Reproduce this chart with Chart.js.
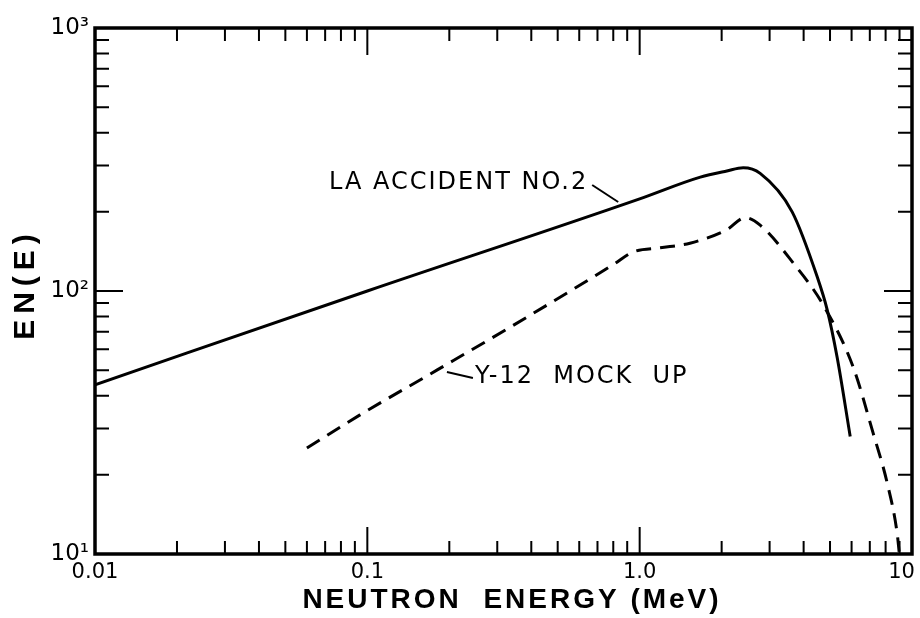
<!DOCTYPE html>
<html>
<head>
<meta charset="utf-8">
<script src="https://cdn.jsdelivr.net/npm/chart.js@4.4.1/dist/chart.umd.min.js"></script>
<style>
  html, body { margin: 0; padding: 0; background: #fff; }
  #wrap { width: 920px; height: 618px; }
</style>
</head>
<body>
<div id="wrap"><canvas id="spectrumChart" width="920" height="618"></canvas></div>
<script>
// LA accident no. 2 (solid line)
const laEnergy = [0.01, 0.1, 1.0, 1.67, 2.09, 2.4, 2.77, 3.63, 4.49, 4.88, 5.31, 5.93];
const laValues = [44, 100, 224, 271, 286, 294, 280, 200, 113, 85, 56, 28];

// Y-12 mock up (dashed line)
const y12Energy = [0.06, 0.094, 0.18, 0.343, 0.8, 0.95, 1.19, 1.53, 2.09, 2.44, 2.77, 3.66, 4.72, 6.08, 7.2, 8.11, 8.82, 8.97];
const y12Values = [25.3, 33.8, 50, 74, 126, 141, 146, 152, 171, 190, 178, 128, 88.5, 51.4, 28.8, 18.6, 12, 10.2];

const xTickValues = [0.01, 0.1, 1, 10];
const xTickLabels = ['0.01', '0.1', '1.0', '10\u2003'];
const yTickValues = [10, 100, 1000];
const yTickLabels = ['10\u00b9', '10\u00b2', '10\u00b3'];

const xMinor = [];
[0.01, 0.1, 1].forEach(d => { for (let k = 2; k <= 9; k++) xMinor.push(d * k); });
const yMinor = [];
[10, 100].forEach(d => { for (let k = 2; k <= 9; k++) yMinor.push(d * k); });
const xLong = [0.1, 1];
const yLong = [100];

function toPoints(xs, ys) {
  return xs.map((e, i) => ({ x: e, y: ys[i] }));
}

// frame, inward ticks, axis titles and curve labels
const frameTicks = {
  id: 'frameTicks',
  afterDraw(chart) {
    const { ctx, chartArea: a, scales: { x, y } } = chart;
    ctx.save();
    ctx.strokeStyle = '#000';
    ctx.fillStyle = '#000';

    ctx.lineWidth = 2;
    ctx.beginPath();
    xMinor.forEach(v => {
      const px = x.getPixelForValue(v);
      ctx.moveTo(px, a.bottom); ctx.lineTo(px, a.bottom - 13);
      ctx.moveTo(px, a.top); ctx.lineTo(px, a.top + 13);
    });
    xLong.forEach(v => {
      const px = x.getPixelForValue(v);
      ctx.moveTo(px, a.bottom); ctx.lineTo(px, a.bottom - 27);
      ctx.moveTo(px, a.top); ctx.lineTo(px, a.top + 27);
    });
    yMinor.forEach(v => {
      const py = y.getPixelForValue(v);
      ctx.moveTo(a.left, py); ctx.lineTo(a.left + 14, py);
      ctx.moveTo(a.right, py); ctx.lineTo(a.right - 14, py);
    });
    yLong.forEach(v => {
      const py = y.getPixelForValue(v);
      ctx.moveTo(a.left, py); ctx.lineTo(a.left + 28, py);
      ctx.moveTo(a.right, py); ctx.lineTo(a.right - 28, py);
    });
    ctx.stroke();

    ctx.lineWidth = 3.5;
    ctx.strokeRect(a.left, a.top, a.right - a.left, a.bottom - a.top);

    // axis titles
    ctx.font = 'bold 28px "Liberation Sans"';
    ctx.letterSpacing = '3px';
    ctx.textAlign = 'center';
    ctx.textBaseline = 'middle';
    ctx.fillText('NEUTRON  ENERGY (MeV)', 512, 600);

    ctx.save();
    ctx.translate(26, 287);
    ctx.rotate(-Math.PI / 2);
    ctx.font = 'bold 30px "Liberation Sans"';
    ctx.letterSpacing = '6px';
    ctx.fillText('EN(E)', 3, 0);
    ctx.restore();

    // curve labels with leader lines
    ctx.font = '24px "DejaVu Sans"';
    ctx.lineWidth = 2;

    const laX = x.getPixelForValue(0.834), laY = y.getPixelForValue(218);
    ctx.beginPath();
    ctx.moveTo(laX, laY); ctx.lineTo(laX - 26, laY - 17);
    ctx.stroke();
    ctx.letterSpacing = '2px';
    ctx.textAlign = 'right';
    ctx.fillText('LA ACCIDENT NO.2', laX - 30, laY - 19);

    const yX = x.getPixelForValue(0.196), yY = y.getPixelForValue(49.2);
    ctx.beginPath();
    ctx.moveTo(yX, yY); ctx.lineTo(yX + 26, yY + 6);
    ctx.stroke();
    ctx.letterSpacing = '2px';
    ctx.textAlign = 'left';
    ctx.fillText('Y-12  MOCK  UP', yX + 28, yY + 5);

    ctx.restore();
  }
};

const ctx = document.getElementById('spectrumChart').getContext('2d');
const spectrumChart = new Chart(ctx, {
  type: 'line',
  data: {
    datasets: [{
      label: 'LA ACCIDENT NO.2',
      data: toPoints(laEnergy, laValues),
      borderColor: '#000',
      borderWidth: 3,
      pointRadius: 0,
      cubicInterpolationMode: 'monotone',
      fill: false
    }, {
      label: 'Y-12 MOCK UP',
      data: toPoints(y12Energy, y12Values),
      borderColor: '#000',
      borderWidth: 3,
      borderDash: [15, 9],
      pointRadius: 0,
      cubicInterpolationMode: 'monotone',
      fill: false
    }]
  },
  options: {
    responsive: false,
    animation: false,
    devicePixelRatio: 1,
    layout: { padding: { top: 28, right: 8, left: 0, bottom: 0 } },
    plugins: {
      legend: { display: false },
      tooltip: { enabled: false }
    },
    scales: {
      x: {
        type: 'logarithmic',
        min: 0.01,
        max: 10,
        grid: { display: false, drawTicks: false },
        border: { display: false },
        afterBuildTicks: s => { s.ticks = xTickValues.map(v => ({ value: v })); },
        afterFit: s => { s.height = 64; s.paddingLeft = 0; s.paddingRight = 0; },
        ticks: {
          autoSkip: false,
          maxRotation: 0,
          padding: 6,
          color: '#000',
          font: { family: 'DejaVu Sans', size: 21 },
          callback: (v, i) => xTickLabels[i]
        }
      },
      y: {
        type: 'logarithmic',
        min: 10,
        max: 1000,
        grid: { display: false, drawTicks: false },
        border: { display: false },
        afterBuildTicks: s => { s.ticks = yTickValues.map(v => ({ value: v })); },
        afterFit: s => { s.width = 95; s.paddingTop = 0; s.paddingBottom = 0; },
        ticks: {
          autoSkip: false,
          padding: 6,
          color: '#000',
          font: { family: 'DejaVu Sans', size: 23 },
          callback: (v, i) => yTickLabels[i]
        }
      }
    }
  },
  plugins: [frameTicks]
});
</script>
</body>
</html>
